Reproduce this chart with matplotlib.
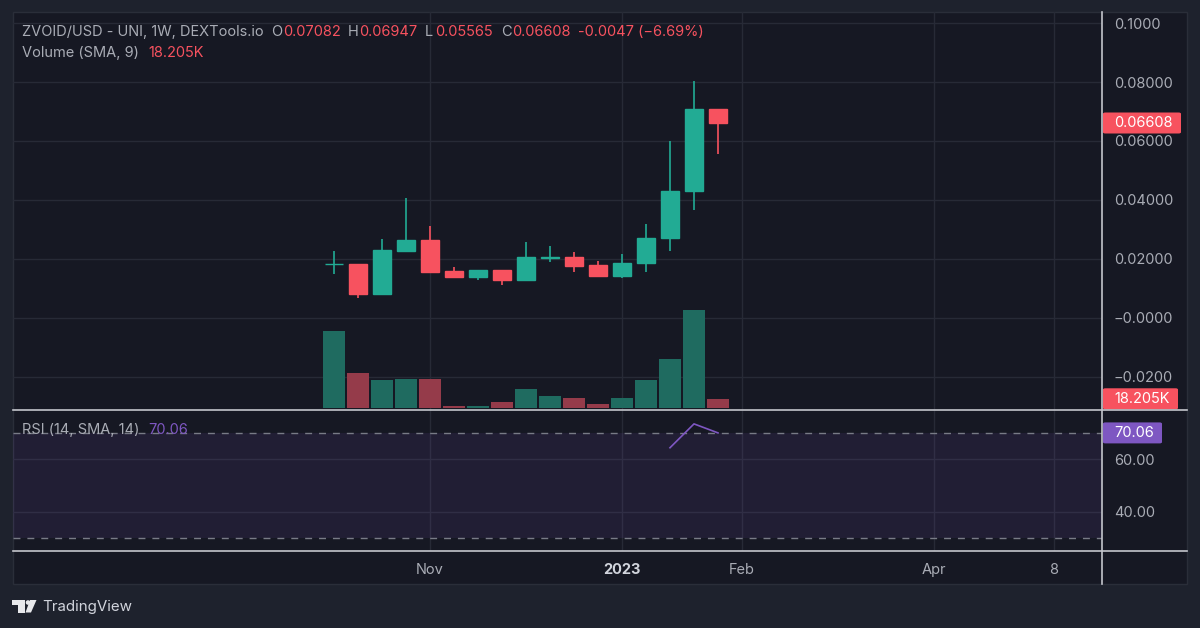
import matplotlib
matplotlib.use("Agg")
import matplotlib.pyplot as plt
from matplotlib.patches import Rectangle, FancyBboxPatch, Polygon, Ellipse

plt.rcParams['font.family'] = ['Inter', 'DejaVu Sans']

W, H = 1200, 628

# weekly candles
opens = [0.01831, 0.01831, 0.00813, 0.02261, 0.02624, 0.01582, 0.01367, 0.01605, 0.01288,
         0.02024, 0.02058, 0.01786, 0.01413, 0.01854, 0.02692, 0.04288, 0.07082]
highs = [0.02250, 0.01831, 0.02680, 0.04050, 0.03122, 0.01707, 0.01605, 0.01616, 0.02578,
         0.02420, 0.02216, 0.01911, 0.02171, 0.03167, 0.06008, 0.08034, 0.07082]
lows = [0.01480, 0.00666, 0.00813, 0.02239, 0.01560, 0.01367, 0.01277, 0.01096, 0.01288,
        0.01888, 0.01548, 0.01390, 0.01356, 0.01548, 0.02250, 0.03665, 0.05565]
closes = [0.01831, 0.00813, 0.02284, 0.02624, 0.01560, 0.01367, 0.01605, 0.01288, 0.02058,
          0.02069, 0.01763, 0.01413, 0.01865, 0.02703, 0.04310, 0.07072, 0.06608]
volumes = [145.6, 67.8, 54.6, 56.5, 55.2, 4.4, 4.4, 12.6, 35.8,
           23.9, 19.5, 8.2, 19.5, 53.4, 93.5, 185.8, 18.205]

rsi_index = [14, 15, 16]
rsi_values = [64.4, 73.5, 70.06]

price_ticks = [-0.02, 0.0, 0.02, 0.04, 0.06, 0.08, 0.10]
price_labels = ['−0.0200', '−0.0000', '0.02000', '0.04000', '0.06000', '0.08000', '0.1000']
rsi_ticks = [40, 60]
rsi_labels = ['40.00', '60.00']
time_ticks = [4, 12, 17, 25, 30]
time_labels = ['Nov', '2023', 'Feb', 'Apr', '8']

BG = '#1e222d'
PANE = '#161823'
GRID = '#272a36'
TXT = '#a9acb5'
LINE = '#c4c6cc'
GREEN = '#22ab94'
RED = '#f7525f'
GREEN_V = '#1f6b60'
RED_V = '#953b4a'
PURPLE = '#7e57c2'
FS = 10.5


def axes_px(x0, y0, x1, y1):
    return fig.add_axes([x0 / W, 1 - y1 / H, (x1 - x0) / W, (y1 - y0) / H])


def fig_text(x, y, s, color=TXT, **kw):
    fig.text(x / W, 1 - y / H, s, color=color, fontsize=kw.pop('fontsize', FS), va='center', **kw)


fig = plt.figure(figsize=(12, 6.28), dpi=100, facecolor=BG)

# pane behind everything
fig.add_artist(Rectangle((13 / W, 1 - 584 / H), 1174 / W, 572 / H, transform=fig.transFigure,
                         facecolor=PANE, edgecolor='#2a2e39', linewidth=1, zorder=-5))

xlim = (-13.375, 32)

# price pane
ax = axes_px(13, 12, 1102, 410)
ax.set_facecolor('none')
ax.set_xlim(xlim)
ax.set_ylim(-0.03137, 0.10377)
ax.set_yticks(price_ticks, price_labels)
ax.set_xticks(time_ticks, [])
ax.grid(True, color=GRID, linewidth=1)
ax.set_axisbelow(True)
for s in ax.spines.values():
    s.set_visible(False)

# volume overlay, same x, own scale
vol = ax.twinx()
vol.set_ylim(-3, 749)
vol.set_yticks([])
vol.set_facecolor('none')
for s in vol.spines.values():
    s.set_visible(False)
vol_colors = [GREEN_V if c >= o else RED_V for o, c in zip(opens, closes)]
vol.bar(range(len(volumes)), volumes, width=0.95, color=vol_colors, linewidth=0)

# candles go on top of the volume
candle = ax.twinx()
candle.set_ylim(ax.get_ylim())
candle.set_yticks([])
candle.set_facecolor('none')
for s in candle.spines.values():
    s.set_visible(False)
for i in range(len(opens)):
    col = GREEN if closes[i] >= opens[i] else RED
    candle.vlines(i, lows[i], highs[i], color=col, linewidth=1.2)
    candle.bar(i, abs(closes[i] - opens[i]), bottom=min(opens[i], closes[i]), width=0.73,
               color=col, edgecolor=col, linewidth=1)

# twinx puts the labels back on the left, so set this last
ax.yaxis.tick_right()
ax.tick_params(axis='both', length=0, labelcolor=TXT, labelsize=FS, pad=8.5)

# rsi pane
rsi = axes_px(13, 410, 1102, 551)
rsi.set_facecolor('none')
rsi.set_xlim(xlim)
rsi.set_ylim(25.0, 78.8)
rsi.set_yticks(rsi_ticks, rsi_labels)
rsi.yaxis.tick_right()
rsi.set_xticks(time_ticks, time_labels)
rsi.grid(True, color=GRID, linewidth=1)
rsi.set_axisbelow(True)
rsi.tick_params(axis='both', length=0, labelcolor=TXT, labelsize=FS)
rsi.tick_params(axis='y', pad=8.5)
rsi.tick_params(axis='x', pad=8.8)
rsi.get_xticklabels()[1].set_fontweight('bold')
rsi.get_xticklabels()[1].set_color('#d1d4dc')
for s in rsi.spines.values():
    s.set_visible(False)
rsi.axhspan(30, 70, color=PURPLE, alpha=0.11, linewidth=0)
rsi.axhline(70, color='#787b86', linewidth=1, dashes=(5, 5))
rsi.axhline(30, color='#787b86', linewidth=1, dashes=(5, 5))
rsi.plot(rsi_index, rsi_values, color=PURPLE, linewidth=1.2)

# separators and price scale line
for y in (410, 551):
    fig.add_artist(plt.Line2D([13 / W, 1187 / W], [1 - y / H, 1 - y / H], color=LINE, linewidth=1.2))
fig.add_artist(plt.Line2D([1102 / W, 1102 / W], [1 - 12 / H, 1 - 584 / H], color=LINE, linewidth=1.2))


# value tags on the scale
def tag(axis, value, width, color, text):
    fig.canvas.draw()
    yc = axis.transData.transform((0, value))[1] / fig.dpi / 6.28
    fig.add_artist(FancyBboxPatch((1103 / W, yc - 10.5 / H), width / W, 21 / H, transform=fig.transFigure,
                                  boxstyle='round,pad=0,rounding_size=0.002', facecolor=color, linewidth=0))
    fig.text(1114 / W, yc, text, color='white', fontsize=FS, va='center')


tag(ax, closes[-1], 78, RED, '0.06608')
tag(vol, volumes[-1], 75, RED, '18.205K')
tag(rsi, rsi_values[-1], 59, PURPLE, '70.06')

# legends
fig_text(22, 32, 'ZVOID/USD - UNI, 1W, DEXTools.io')
fig_text(271, 32, 'O')
fig_text(283, 32, '0.07082', RED)
fig_text(348, 32, 'H')
fig_text(359, 32, '0.06947', RED)
fig_text(425, 32, 'L')
fig_text(435, 32, '0.05565', RED)
fig_text(501, 32, 'C')
fig_text(512, 32, '0.06608', RED)
fig_text(578, 32, '-0.0047 (−6.69%)', RED)
fig_text(22, 53, 'Volume (SMA, 9)')
fig_text(148, 53, '18.205K', RED)
fig_text(22, 430, 'RSI (14, SMA, 14)')
fig_text(148, 430, '70.06', PURPLE)

# TradingView mark
logo = [[(12, 600), (25, 600), (25, 612.5), (18, 612.5), (18, 604.5), (12, 604.5)],
        [(30, 600), (36.5, 600), (31, 612.5), (25.5, 612.5)]]
for pts in logo:
    fig.add_artist(Polygon([(x / W, 1 - y / H) for x, y in pts], closed=True, transform=fig.transFigure,
                           facecolor='#e8e9ec', linewidth=0))
fig.add_artist(Ellipse((28 / W, 1 - 602.5 / H), 4.6 / W, 4.6 / H, transform=fig.transFigure,
                       facecolor='#e8e9ec', linewidth=0))
fig_text(42, 607.5, 'TradingView', '#d1d4dc', fontsize=10.9)

fig.savefig('out.png', dpi=100, facecolor=BG)
